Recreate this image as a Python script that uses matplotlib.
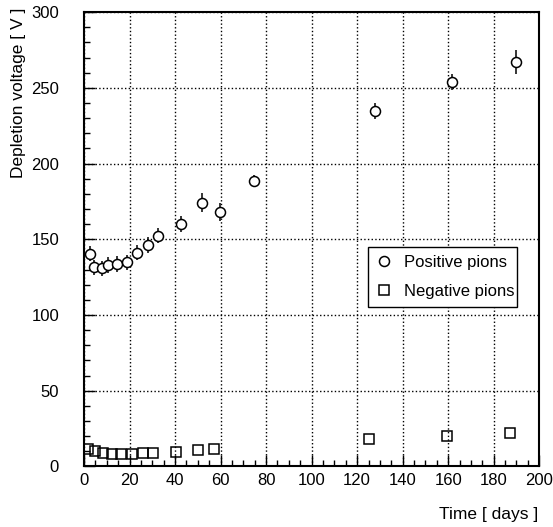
import matplotlib
matplotlib.use('Agg')
import matplotlib.pyplot as plt
from matplotlib.ticker import MultipleLocator

plt.rcParams['font.family'] = ['Liberation Sans', 'DejaVu Sans']

# positive pions
pos_days = [2.6, 4.4, 7.8, 10.7, 14.6, 18.8, 23.4, 28.3, 32.6, 42.6, 51.7, 59.8, 74.8, 127.9, 161.8, 189.8]
pos_volt = [140.5, 131.5, 130.8, 133.0, 133.7, 134.8, 141.0, 146.2, 152.4, 160.1, 174.2, 168.0, 188.7, 234.7, 253.7, 267.3]
pos_err = [5, 5, 5, 5, 5, 5, 5, 5, 5, 5, 6.4, 6, 3.6, 5, 5.4, 8]

# negative pions
neg_days = [1.9, 4.8, 8.5, 12.4, 16.3, 21.2, 26.0, 30.5, 40.4, 50.2, 57.2, 125.4, 159.3, 187.2]
neg_volt = [11.3, 10.4, 9.1, 8.2, 8.2, 8.2, 8.6, 9.0, 9.3, 10.8, 11.3, 17.9, 20.1, 22.3]

fig = plt.figure(figsize=(5.53, 5.27), dpi=100)
ax = fig.add_axes([0.152, 0.115, 0.823, 0.862])

ax.errorbar(pos_days, pos_volt, yerr=pos_err, fmt='none', ecolor='black',
            elinewidth=1.1, capsize=0, zorder=2)
ax.plot(pos_days, pos_volt, 'o', mfc='white', mec='black', ms=7.2, mew=1.1,
        label='Positive pions', zorder=3)
ax.plot(neg_days, neg_volt, 's', mfc='none', mec='black', ms=6.5, mew=1.1,
        label='Negative pions', zorder=3)

ax.set_xlim(0, 200)
ax.set_ylim(0, 300)
ax.xaxis.set_major_locator(MultipleLocator(20))
ax.xaxis.set_minor_locator(MultipleLocator(5))
ax.yaxis.set_major_locator(MultipleLocator(50))
ax.yaxis.set_minor_locator(MultipleLocator(10))
ax.tick_params(which='both', direction='in', top=False, right=False, labelsize=12)
ax.tick_params(which='major', length=8, width=1)
ax.tick_params(which='minor', length=4.5, width=1)
ax.tick_params(axis='x', pad=5)
ax.tick_params(axis='y', pad=18)
ax.grid(True, which='major', linestyle=':', color='black', linewidth=1)
for s in ax.spines.values():
    s.set_linewidth(1.5)

fig.text(538 / 553, 1 - 515 / 527, 'Time [ days ]', fontsize=12.5,
         ha='right', va='center')
fig.text(19 / 553, 1 - 8 / 527, 'Depletion voltage [ V ]', fontsize=12.5,
         rotation=90, ha='center', va='top')

leg = ax.legend(loc='upper left', bbox_to_anchor=(0.624, 0.351, 0.328, 0.132),
                mode='expand', fontsize=12, frameon=True, fancybox=False,
                framealpha=1, edgecolor='black', handletextpad=0.75,
                borderpad=0.5, labelspacing=0.8, handlelength=0.9,
                borderaxespad=0)
leg.get_frame().set_linewidth(1.0)

fig.savefig('out.png', dpi=100)
